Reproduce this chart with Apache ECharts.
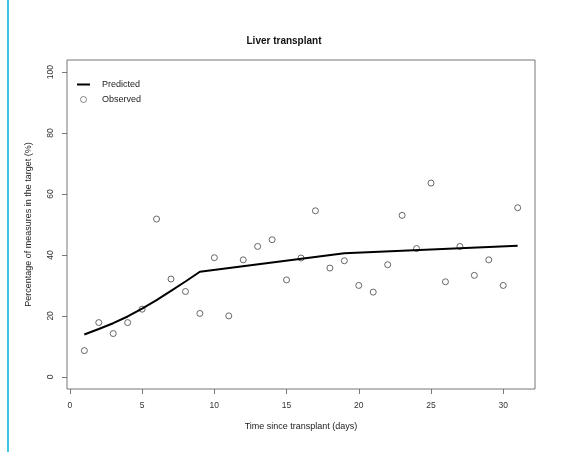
<!DOCTYPE html>
<html>
<head>
<meta charset="utf-8">
<script src="https://cdn.jsdelivr.net/npm/echarts@6/dist/echarts.min.js"></script>
<style>
  html, body { margin: 0; padding: 0; background: #fff; }
  #chart { width: 564px; height: 452px; }
</style>
</head>
<body>
<div id="chart"></div>
<script>
/** Liver transplant: predicted vs observed */
var days = [1, 2, 3, 4, 5, 6, 7, 8, 9, 10, 11, 12, 13, 14, 15, 16,
  17, 18, 19, 20, 21, 22, 23, 24, 25, 26, 27, 28, 29, 30, 31];
var observed = [8.6, 17.8, 14.2, 17.8, 22.2, 51.8, 32.1, 28.0, 20.8, 39.1, 20.0, 38.4, 42.8, 45.0, 31.8, 39.0,
  54.5, 35.7, 38.1, 30.0, 27.8, 36.8, 53.0, 42.1, 63.6, 31.2, 42.8, 33.3, 38.4, 30.0, 55.5];
var predDays = [1, 2, 3, 4, 5, 6, 7, 8, 9, 19, 31];
var predicted = [13.9, 15.7, 17.6, 19.8, 22.4, 25.2, 28.2, 31.3, 34.5, 40.6, 43.0];
var xTicks = [0, 5, 10, 15, 20, 25, 30];
var yTicks = [0, 20, 40, 60, 80, 100];

var font = 'Liberation Sans, Arial, sans-serif';
var chart = echarts.init(document.getElementById('chart'));

var option = {
  backgroundColor: '#fff',
  animation: false,
  title: {
    text: 'Liver transplant',
    left: 279,
    top: 31,
    textAlign: 'center',
    textStyle: { fontFamily: font, fontSize: 10, fontWeight: 'bold', color: '#111' }
  },
  legend: {
    left: 72,
    top: 75,
    orient: 'vertical',
    itemWidth: 13,
    itemHeight: 6,
    itemGap: 6,
    textStyle: { fontFamily: font, fontSize: 9, color: '#222', padding: [0, 0, 0, 7] },
    data: [
      { name: 'Predicted', icon: 'path://M0 0H13V2H0Z' },
      { name: 'Observed', icon: 'circle', itemStyle: { color: '#fff', borderColor: '#444', borderWidth: 0.8 } }
    ]
  },
  grid: {
    left: 67,
    right: 29,
    top: 60,
    bottom: 63,
    show: true,
    borderColor: '#777',
    borderWidth: 1
  },
  xAxis: {
    type: 'value',
    min: -0.2,
    max: 32.2,
    name: 'Time since transplant (days)',
    nameLocation: 'middle',
    nameGap: 33,
    nameTextStyle: { fontFamily: font, fontSize: 9, color: '#222' },
    splitLine: { show: false },
    axisLine: { show: false, onZero: false },
    axisTick: { show: true, inside: false, length: 5, customValues: xTicks, lineStyle: { color: '#777' } },
    axisLabel: { customValues: xTicks, margin: 12, fontFamily: font, fontSize: 8.5, color: '#333' }
  },
  yAxis: {
    type: 'value',
    min: -4,
    max: 104,
    name: 'Percentage of measures in the target (%)',
    nameLocation: 'middle',
    nameRotate: 90,
    nameGap: 34,
    nameTextStyle: { fontFamily: font, fontSize: 9, color: '#222' },
    splitLine: { show: false },
    axisLine: { show: false, onZero: false },
    axisTick: { show: true, inside: false, length: 5, customValues: yTicks, lineStyle: { color: '#777' } },
    axisLabel: { customValues: yTicks, rotate: 90, margin: 12, fontFamily: font, fontSize: 8.5, color: '#333' }
  },
  graphic: [{
    type: 'line',
    shape: { x1: 8, y1: 0, x2: 8, y2: 452 },
    style: { stroke: '#3ec6e0', lineWidth: 2 }
  }],
  series: [{
    name: 'Predicted',
    type: 'line',
    symbol: 'none',
    smooth: false,
    lineStyle: { color: '#000', width: 2 },
    itemStyle: { color: '#000' },
    data: predDays.map(function (d, i) { return [d, predicted[i]]; })
  }, {
    name: 'Observed',
    type: 'scatter',
    symbol: 'circle',
    symbolSize: 6,
    itemStyle: { color: '#fff', borderColor: '#444', borderWidth: 1 },
    data: days.map(function (d, i) { return [d, observed[i]]; })
  }]
};

chart.setOption(option);
</script>
</body>
</html>
